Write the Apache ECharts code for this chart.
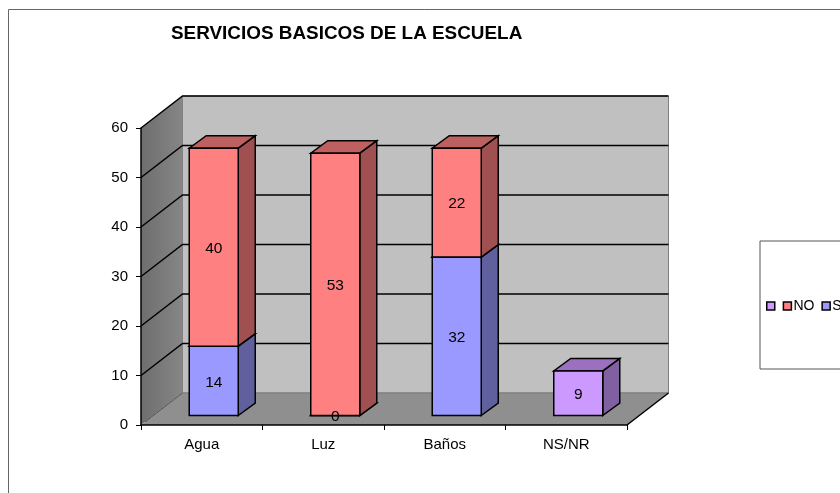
<!DOCTYPE html>
<html><head><meta charset="utf-8">
<style>html,body{margin:0;padding:0;background:#fff}#c{width:840px;height:493px}</style>
<script src="https://cdn.jsdelivr.net/npm/echarts@6/dist/echarts.min.js"></script>
</head><body><div id="c"></div>
<script>
const titleText = 'SERVICIOS BASICOS DE LA ESCUELA';
const categories = ['Agua', 'Luz', 'Baños', 'NS/NR'];
const siValues = [14, 0, 32, null];
const noValues = [40, 53, 22, null];
const nsValues = [null, null, null, 9];
const yTicks = [10, 20, 30, 40, 50, 60];

const FONT = '"Liberation Sans", Arial, sans-serif';
const DX = 41.5, DY = -32;           // full depth of the 3D box
const B0X = 12, B0Y = -9.5;          // bar front offset within depth
const BDX = 17, BDY = -12.5;         // bar depth
const BAR_RATIO = 49 / 121.5;

const poly = (pts, fill, stroke, lw) => ({
  type: 'polygon', shape: { points: pts },
  style: { fill, stroke: stroke || 'none', lineWidth: lw || 0, lineJoin: 'miter' }
});
const line = (pts, stroke, lw) => ({
  type: 'polyline', shape: { points: pts },
  style: { fill: 'none', stroke, lineWidth: lw }
});

function wallRender(params, api) {
  const band = api.size([1, 0])[0];
  const o = api.coord([0, 0]);
  const t = api.coord([0, 60]);
  const x0 = o[0] - band / 2, y0 = o[1], yT = t[1];
  const x1 = x0 + band * categories.length;
  const ch = [
    poly([[x0 + DX, y0 + DY], [x1 + DX, y0 + DY], [x1 + DX, yT + DY], [x0 + DX, yT + DY]], '#c0c0c0', '#808080', 1),
    { type: 'polygon', shape: { points: [[x0, y0], [x0 + DX, y0 + DY], [x0 + DX, yT + DY], [x0, yT]] },
      style: { fill: new echarts.graphic.LinearGradient(0, 0, 1, 0, [{ offset: 0, color: '#6e6e6e' }, { offset: 1, color: '#868686' }]), stroke: 'none' } },
    poly([[x0, y0], [x1, y0], [x1 + DX, y0 + DY], [x0 + DX, y0 + DY]], '#8f8f8f'),
    line([[x0 + DX, y0 + DY], [x1 + DX, y0 + DY]], '#7a7a7a', 1),
    line([[x0 + 4, y0 - 3], [x0 + DX, y0 + DY]], '#555', 1),
    line([[x1, y0], [x1 + DX, y0 + DY]], '#000', 1.5)
  ];
  yTicks.forEach(v => {
    const y = api.coord([0, v])[1];
    ch.push(line([[x0, y], [x0 + DX, y + DY], [x1 + DX, y + DY]], '#000', 1.5));
  });
  return { type: 'group', children: ch };
}

function barRender(front, top, side) {
  return function (params, api) {
    const v = api.value(1);
    if (v === null || v === undefined || isNaN(v)) return null;
    const base = api.value(2);
    const band = api.size([1, 0])[0];
    const w = band * BAR_RATIO;
    const pb = api.coord([api.value(0), base]);
    const pt = api.coord([api.value(0), base + v]);
    const l = pb[0] - w / 2 + B0X, r = l + w;
    const yb = pb[1] + B0Y, yt = pt[1] + B0Y;
    return {
      type: 'group',
      children: [
        poly([[r, yb], [r + BDX, yb + BDY], [r + BDX, yt + BDY], [r, yt]], side, '#000', 1.5),
        poly([[l, yt], [r, yt], [r + BDX, yt + BDY], [l + BDX, yt + BDY]], top, '#000', 1.5),
        poly([[l, yb], [r, yb], [r, yt], [l, yt]], front, '#000', 1.5)
      ]
    };
  };
}

function labelRender(params, api) {
  const v = api.value(1);
  if (v === null || v === undefined || isNaN(v)) return null;
  const base = api.value(2);
  const pb = api.coord([api.value(0), base]);
  const pt = api.coord([api.value(0), base + v]);
  return {
    type: 'text', z2: 100,
    style: { x: pb[0] + B0X, y: (pb[1] + pt[1]) / 2 + B0Y + 1.5, text: String(v), fill: '#000',
      font: '15.5px ' + FONT, textAlign: 'center', textVerticalAlign: 'middle' }
  };
}

const toData = (vals, bases) => vals.map((v, i) => [i, v, bases ? (bases[i] || 0) : 0]);
const labelData = toData(siValues).concat(toData(noValues, siValues), toData(nsValues));

const chart = echarts.init(document.getElementById('c'), null, { renderer: 'canvas' });
chart.setOption({
  animation: false,
  backgroundColor: '#fff',
  title: { text: titleText, left: 171, top: 24, padding: 0,
    textStyle: { fontFamily: FONT, fontWeight: 'bold', fontSize: 18.9, color: '#000' } },
  grid: { left: 141, right: 213, top: 128, bottom: 68, containLabel: false },
  graphic: [{ type: 'rect', silent: true, z: -1, shape: { x: 8.5, y: 9.5, width: 900, height: 600 },
    style: { fill: 'none', stroke: '#666', lineWidth: 1 } }],
  legend: {
    left: 760, top: 241, width: 200, orient: 'horizontal', icon: 'rect',
    padding: [58, 60, 56, 6], itemGap: 7, itemWidth: 8, itemHeight: 8,
    borderColor: '#555', borderWidth: 1, backgroundColor: '#fff',
    itemStyle: { borderColor: '#000', borderWidth: 1.5 },
    textStyle: { fontFamily: FONT, fontSize: 14, color: '#000' },
    data: [
      { name: ' ', textStyle: { padding: [0, 0, 0, -8] } },
      { name: 'NO', textStyle: { padding: [0, 0, 0, -3] } },
      { name: 'SI', textStyle: { padding: [0, 0, 0, -3] } }
    ]
  },
  xAxis: {
    type: 'category', data: categories, z: 10,
    axisLine: { lineStyle: { color: '#000', width: 1.5 } },
    axisTick: { show: true, length: 5, alignWithLabel: false, lineStyle: { color: '#000', width: 1 } },
    axisLabel: { fontFamily: FONT, fontSize: 15, color: '#000', margin: 12 },
    splitLine: { show: false }
  },
  yAxis: {
    type: 'value', min: 0, max: 60, interval: 10, z: 10,
    axisLine: { show: true, lineStyle: { color: '#000', width: 1.5 } },
    axisTick: { show: true, length: 5, lineStyle: { color: '#000', width: 1 } },
    axisLabel: { fontFamily: FONT, fontSize: 15, color: '#000', margin: 13 },
    splitLine: { show: false }
  },
  series: [
    { type: 'custom', name: 'walls', z: 1, silent: true, renderItem: wallRender, data: [[0, 0]], encode: { x: 0, y: 1 } },
    { type: 'custom', name: 'SI', z: 2, renderItem: barRender('#9999ff', '#7a7acc', '#60609f'),
      itemStyle: { color: '#9999ff' }, data: toData(siValues), encode: { x: 0, y: 1 } },
    { type: 'custom', name: 'NO', z: 3, renderItem: barRender('#ff8080', '#bf6060', '#a05050'),
      itemStyle: { color: '#ff8080' }, data: toData(noValues, siValues), encode: { x: 0, y: 1 } },
    { type: 'custom', name: ' ', z: 4, renderItem: barRender('#cc99ff', '#9c70bf', '#8060a0'),
      itemStyle: { color: '#cc99ff' }, data: toData(nsValues), encode: { x: 0, y: 1 } },
    { type: 'custom', name: 'labels', z: 5, silent: true, renderItem: labelRender, data: labelData, encode: { x: 0, y: 1 } }
  ]
});
</script></body></html>
